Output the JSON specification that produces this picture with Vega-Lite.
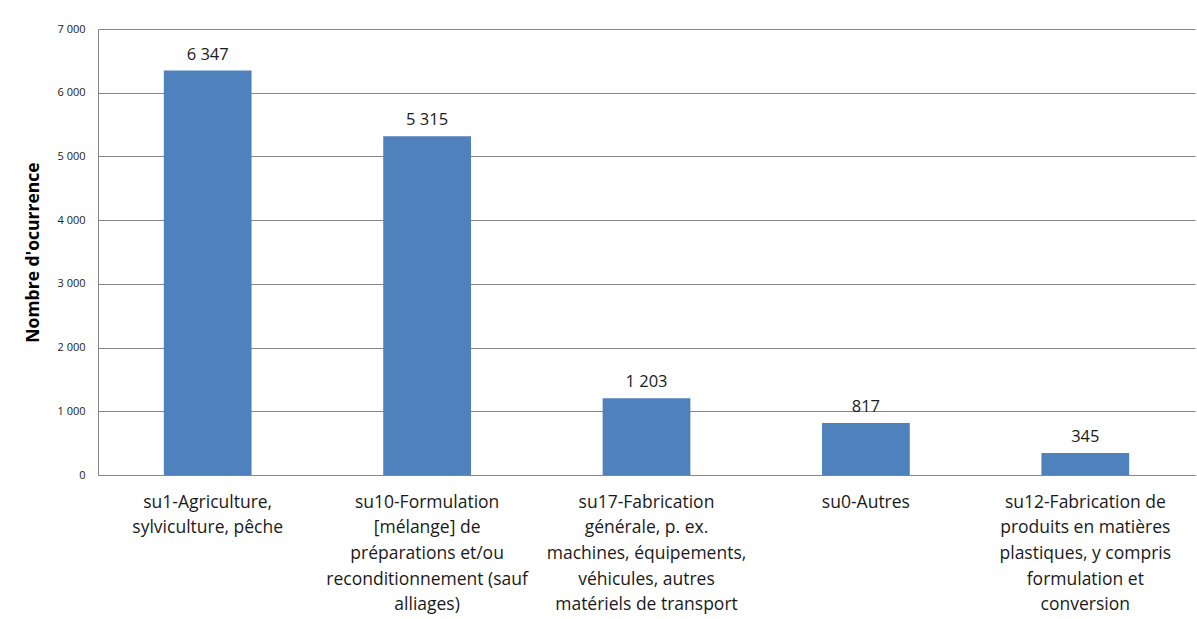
{
  "$schema": "https://vega.github.io/schema/vega-lite/v6.json",
  "width": 1097,
  "height": 446,
  "autosize": {"type": "none"},
  "padding": {"left": 98, "top": 29, "right": 2, "bottom": 144},
  "background": "white",
  "config": {
    "locale": {"number": {"decimal": ",", "thousands": " ", "grouping": [3], "currency": ["", " €"]}},
    "font": "Open Sans",
    "view": {"stroke": null}
  },
  "data": {
    "values": [
      {"cat": "su1-Agriculture,|sylviculture, pêche", "n": 6347},
      {"cat": "su10-Formulation|[mélange] de|préparations et/ou|reconditionnement (sauf|alliages)", "n": 5315},
      {"cat": "su17-Fabrication|générale, p. ex.|machines, équipements,|véhicules, autres|matériels de transport", "n": 1203},
      {"cat": "su0-Autres", "n": 817},
      {"cat": "su12-Fabrication de|produits en matières|plastiques, y compris|formulation et|conversion", "n": 345}
    ]
  },
  "encoding": {
    "x": {
      "field": "cat", "type": "nominal", "sort": null,
      "scale": {"paddingInner": 0.6, "paddingOuter": 0.3},
      "axis": {
        "title": null, "labelAngle": 0, "labelExpr": "split(datum.label, '|')",
        "labelFontSize": 17.5, "labelColor": "#1a1a1a", "labelLineHeight": 25.7,
        "labelPadding": 18, "ticks": false, "domainColor": "#868686", "domainWidth": 1,
        "labelLimit": 0, "labelBaseline": "top"
      }
    },
    "y": {
      "field": "n", "type": "quantitative",
      "scale": {"domain": [0, 7000]},
      "axis": {
        "title": "Nombre d'ocurrence", "titleFontSize": 17.5, "titleFontWeight": "bold", "titleColor": "#000",
        "titlePadding": 14,
        "values": [0, 1000, 2000, 3000, 4000, 5000, 6000, 7000],
        "labelExpr": "format(datum.value, ',.0f')",
        "labelFontSize": 11, "labelColor": "#1a1a1a", "labelPadding": 13,
        "ticks": false, "grid": true, "gridColor": "#868686", "gridWidth": 1,
        "domainColor": "#868686"
      }
    }
  },
  "layer": [
    {"mark": {"type": "bar", "color": "#4F81BD"}},
    {
      "mark": {"type": "text", "dy": -8, "fontSize": 16.5, "color": "#1a1a1a", "baseline": "bottom"},
      "encoding": {"text": {"field": "n", "type": "quantitative", "format": ",.0f"}}
    }
  ]
}
